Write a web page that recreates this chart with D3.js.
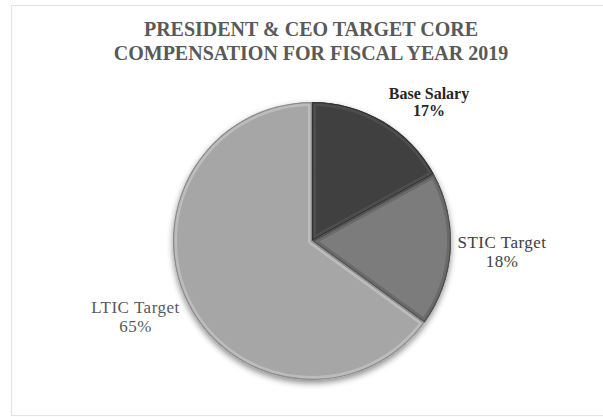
<!DOCTYPE html>
<html>
<head>
<meta charset="utf-8">
<script src="https://cdn.jsdelivr.net/npm/d3@7"></script>
<style>
  html, body { margin: 0; padding: 0; background: #ffffff; }
  svg { display: block; }
</style>
</head>
<body>
<script>
// Target core compensation mix, fiscal year 2019
const titleLines = ["PRESIDENT & CEO TARGET CORE", "COMPENSATION FOR FISCAL YEAR 2019"];
const categories = ["Base Salary", "STIC Target", "LTIC Target"];
const shares = [17, 18, 65];

// Slice shading: body, rim highlight, edge line
const fillColors = ["#3f3f3f", "#7c7c7c", "#a6a6a6"];
const rimColors  = ["#4e4e4e", "#6a6a6a", "#bcbcbc"];
const edgeColors = ["#333333", "#4f4f4f", "#8c8c8c"];

// Label styling per slice
const labelColors = ["#262626", "#404040", "#595959"];
const labelWeights = ["bold", "normal", "normal"];
const labelSizes = [16, 17, 17];
const labelSpacing = [0, 0.5, 0.5];
const labelPos = [[429, 98.5], [502, 248], [135.5, 313]];
const labelGap = [17, 19, 19];

const W = 603, H = 417;
const cx = 312, cy = 241, R = 139;
const serif = "'Liberation Serif', 'Times New Roman', serif";

const svg = d3.select("body").append("svg")
  .attr("width", W).attr("height", H);

// chart area frame
svg.append("rect")
  .attr("x", 11.5).attr("y", 5.5)
  .attr("width", W + 10).attr("height", 410)
  .attr("fill", "#ffffff")
  .attr("stroke", "#e4e4e4").attr("stroke-width", 1.2);

const defs = svg.append("defs");
const shadow = defs.append("filter").attr("id", "pieShadow")
  .attr("x", "-20%").attr("y", "-20%").attr("width", "140%").attr("height", "140%");
shadow.append("feGaussianBlur").attr("in", "SourceAlpha").attr("stdDeviation", 3).attr("result", "b");
shadow.append("feOffset").attr("in", "b").attr("dx", 0).attr("dy", 3).attr("result", "o");
shadow.append("feComponentTransfer").attr("in", "o").attr("result", "s")
  .append("feFuncA").attr("type", "linear").attr("slope", 0.45);
const merge = shadow.append("feMerge");
merge.append("feMergeNode").attr("in", "s");
merge.append("feMergeNode").attr("in", "SourceGraphic");

// title
svg.append("g").selectAll("text").data(titleLines).join("text")
  .attr("x", 311)
  .attr("y", (d, i) => 36 + i * 24)
  .attr("text-anchor", "middle")
  .attr("font-family", serif)
  .attr("font-weight", "bold")
  .attr("font-size", 20)
  .attr("fill", "#595959")
  .text(d => d);

const pie = d3.pie().sort(null).value(d => d);
const arcs = pie(shares);
const arc = d3.arc().innerRadius(0).outerRadius(R);

const pieG = svg.append("g")
  .attr("transform", `translate(${cx},${cy})`)
  .attr("filter", "url(#pieShadow)");

arcs.forEach((a, i) => {
  defs.append("clipPath").attr("id", "clip" + i)
    .append("path").attr("d", arc(a));
});

const slices = pieG.selectAll("g.slice").data(arcs).join("g")
  .attr("class", "slice")
  .attr("clip-path", (d, i) => `url(#clip${i})`);

slices.append("path")
  .attr("d", arc)
  .attr("fill", (d, i) => fillColors[i]);
slices.append("path")
  .attr("d", arc)
  .attr("fill", "none")
  .attr("stroke", (d, i) => rimColors[i])
  .attr("stroke-width", 8)
  .attr("stroke-linejoin", "round");
slices.append("path")
  .attr("d", arc)
  .attr("fill", "none")
  .attr("stroke", (d, i) => edgeColors[i])
  .attr("stroke-width", 2.6)
  .attr("stroke-linejoin", "round");

// labels
const labels = svg.append("g").selectAll("text").data(arcs).join("text")
  .attr("text-anchor", "middle")
  .attr("font-family", serif)
  .attr("font-size", (d, i) => labelSizes[i])
  .attr("letter-spacing", (d, i) => labelSpacing[i])
  .attr("font-weight", (d, i) => labelWeights[i])
  .attr("fill", (d, i) => labelColors[i]);
labels.append("tspan")
  .attr("x", (d, i) => labelPos[i][0])
  .attr("y", (d, i) => labelPos[i][1])
  .text((d, i) => categories[i]);
labels.append("tspan")
  .attr("x", (d, i) => labelPos[i][0])
  .attr("y", (d, i) => labelPos[i][1] + labelGap[i])
  .text(d => d.data + "%");
</script>
</body>
</html>
